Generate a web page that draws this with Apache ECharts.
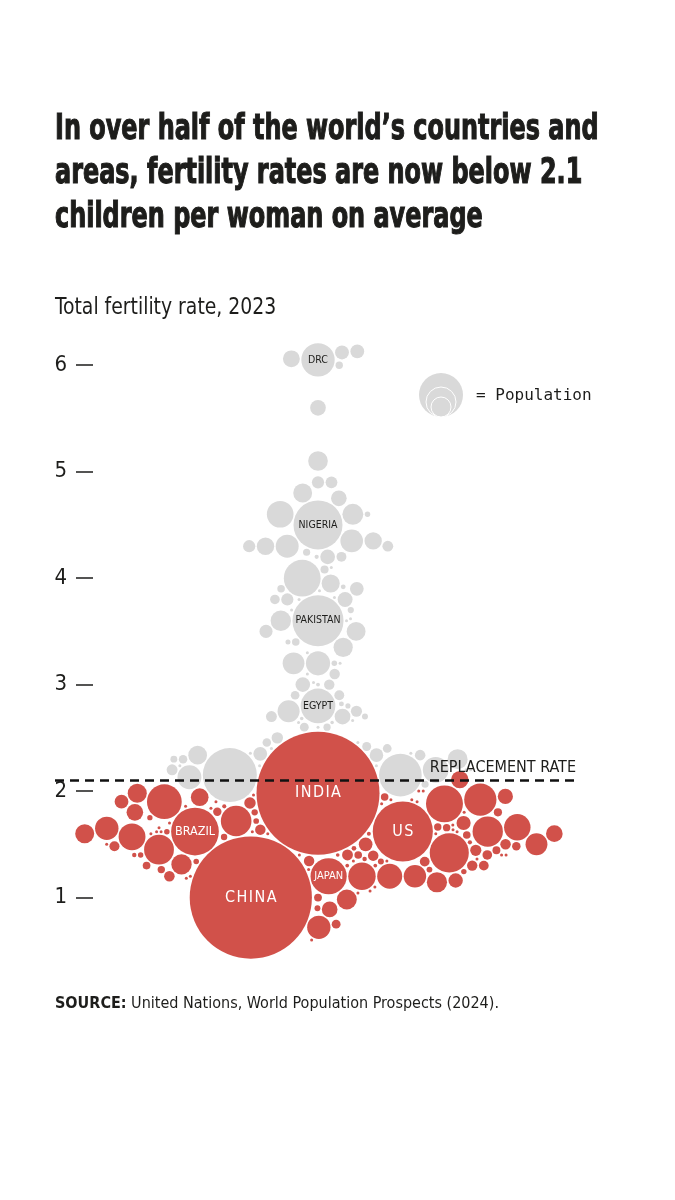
<!DOCTYPE html>
<html>
<head>
<meta charset="utf-8">
<script src="https://cdn.jsdelivr.net/npm/echarts@6/dist/echarts.min.js"></script>
<style>
html, body { margin: 0; padding: 0; background: #fff; }
#chart { width: 675px; height: 1200px; }
</style>
</head>
<body>
<div id="chart"></div>
<script>
var chart = echarts.init(document.getElementById('chart'));

// [country or area, total fertility rate 2023, population in millions]
var subSaharanAfrica = [
    ['DRC', 6.05, 105.8], ['Niger', 6.06, 27.2], ['Chad', 6.12, 18.3], ['Somalia', 6.13, 18.1],
    ['Central African Rep.', 6.0, 5.2], ['Mali', 5.6, 23.3], ['Angola', 5.1, 36.7],
    ['Mozambique', 4.8, 33.9], ['Burkina Faso', 4.75, 23.3], ['Benin', 4.9, 14.1], ['Burundi', 4.9, 13.2],
    ['Tanzania', 4.6, 67.4], ['Nigeria', 4.5, 227.9], ['Uganda', 4.35, 48.6], ['Sudan', 4.3, 50.0],
    ['Cameroon', 4.35, 28.6], ["Côte d'Ivoire", 4.3, 28.9], ['Guinea', 4.3, 14.2], ['South Sudan', 4.3, 11.1],
    ['Zambia', 4.2, 20.7], ['Mauritania', 4.3, 4.9], ['Gambia', 4.6, 2.8], ['Equatorial Guinea', 4.2, 1.7],
    ['Congo', 4.1, 6.2], ['Togo', 4.2, 9.3], ['Mayotte', 4.1, 0.32],
    ['Ethiopia', 4.0, 128.7], ['Madagascar', 3.95, 31.2], ['Malawi', 3.8, 21.1], ['Senegal', 3.9, 18.0],
    ['Sierra Leone', 3.8, 8.8], ['Liberia', 3.9, 5.4], ['Guinea-Bissau', 3.9, 2.2], ['Rwanda', 3.8, 14.1],
    ['Eritrea', 3.7, 3.7], ['Comoros', 3.8, 0.85], ['Sao Tome and Principe', 3.7, 0.23],
    ['Zimbabwe', 3.5, 16.3], ['Ghana', 3.5, 33.8], ['Gabon', 3.4, 2.4], ['Kenya', 3.2, 55.3],
    ['Namibia', 3.2, 2.9], ['Lesotho', 2.8, 2.3], ['Botswana', 2.8, 2.5], ['Eswatini', 2.7, 1.2],
    ['Djibouti', 2.7, 1.15], ['South Africa', 2.2, 63.2], ['Seychelles', 2.2, 0.13], ['Réunion', 2.2, 0.87],
    ['Cabo Verde', 1.9, 0.52], ['Mauritius', 1.4, 1.27]
];
var northAfricaWestAsia = [
    ['Egypt', 2.8, 114.5], ['Algeria', 2.75, 46.2], ['Morocco', 2.3, 37.8], ['Libya', 2.4, 7.3],
    ['Tunisia', 1.85, 12.5], ['Western Sahara', 2.2, 0.58], ['Yemen', 3.6, 39.4], ['Iraq', 3.2, 45.1],
    ['State of Palestine', 3.4, 5.4], ['Syria', 2.7, 23.6], ['Jordan', 2.7, 11.3], ['Israel', 2.9, 9.3],
    ['Saudi Arabia', 2.3, 33.3], ['Oman', 2.6, 5.0], ['Kuwait', 2.12, 4.8], ['Lebanon', 2.0, 5.4],
    ['Bahrain', 1.8, 1.6], ['Qatar', 1.75, 2.7], ['United Arab Emirates', 1.2, 10.6], ['Turkey', 1.62, 87.3],
    ['Azerbaijan', 1.6, 10.4], ['Armenia', 1.6, 2.9], ['Georgia', 1.8, 3.8], ['Cyprus', 1.3, 1.3]
];
var centralSouthAsia = [
    ['India', 1.98, 1438.1], ['Pakistan', 3.6, 247.5], ['Bangladesh', 2.15, 173.0], ['Afghanistan', 4.6, 41.5],
    ['Iran', 1.7, 89.2], ['Nepal', 1.98, 29.7], ['Sri Lanka', 1.95, 22.0], ['Bhutan', 1.4, 0.79],
    ['Maldives', 1.7, 0.53], ['Uzbekistan', 3.35, 35.2], ['Kazakhstan', 3.0, 20.3], ['Tajikistan', 3.0, 10.4],
    ['Kyrgyzstan', 2.9, 7.1], ['Turkmenistan', 2.6, 7.4]
];
var eastSoutheastAsia = [
    ['China', 1.0, 1419.3], ['Japan', 1.2, 124.4], ['South Korea', 0.72, 51.7], ['North Korea', 1.8, 26.2],
    ['Taiwan', 0.87, 23.3], ['Hong Kong', 0.75, 7.5], ['Macao', 0.6, 0.71], ['Mongolia', 2.7, 3.4],
    ['Indonesia', 2.15, 277.5], ['Philippines', 1.9, 114.9], ['Vietnam', 1.92, 99.0], ['Thailand', 1.2, 71.7],
    ['Myanmar', 2.13, 54.1], ['Malaysia', 1.6, 34.3], ['Cambodia', 2.3, 17.4], ['Laos', 2.4, 7.6],
    ['Singapore', 1.0, 5.8], ['Timor-Leste', 3.0, 1.4], ['Brunei', 1.8, 0.46]
];
var europe = [
    ['Russia', 1.42, 145.4], ['Germany', 1.45, 84.5], ['United Kingdom', 1.57, 68.7], ['France', 1.66, 66.4],
    ['Italy', 1.2, 59.5], ['Spain', 1.2, 47.9], ['Poland', 1.2, 38.8], ['Ukraine', 1.0, 37.7],
    ['Romania', 1.7, 19.1], ['Netherlands', 1.5, 17.9], ['Belgium', 1.5, 11.8], ['Czechia', 1.5, 10.5],
    ['Sweden', 1.45, 10.5], ['Portugal', 1.4, 10.4], ['Greece', 1.3, 10.3], ['Hungary', 1.5, 9.6],
    ['Belarus', 1.3, 9.1], ['Austria', 1.3, 9.1], ['Switzerland', 1.4, 8.8], ['Serbia', 1.5, 6.8],
    ['Bulgaria', 1.75, 6.7], ['Denmark', 1.5, 5.9], ['Finland', 1.3, 5.6], ['Norway', 1.4, 5.5],
    ['Slovakia', 1.55, 5.5], ['Ireland', 1.7, 5.2], ['Croatia', 1.55, 3.9], ['Bosnia and Herzegovina', 1.3, 3.2],
    ['Moldova', 1.7, 3.1], ['Lithuania', 1.3, 2.9], ['Albania', 1.4, 2.8], ['Slovenia', 1.5, 2.1],
    ['Latvia', 1.4, 1.9], ['North Macedonia', 1.4, 1.8], ['Kosovo', 1.5, 1.7], ['Estonia', 1.3, 1.3],
    ['Luxembourg', 1.3, 0.66], ['Montenegro', 1.7, 0.62], ['Malta', 1.1, 0.54], ['Iceland', 1.6, 0.39],
    ['Channel Islands', 1.4, 0.17], ['Isle of Man', 1.6, 0.08], ['Andorra', 1.1, 0.08], ['Faroe Islands', 2.2, 0.05],
    ['San Marino', 1.1, 0.03], ['Monaco', 2.1, 0.04], ['Liechtenstein', 1.4, 0.04], ['Gibraltar', 1.6, 0.03]
];
var americas = [
    ['US', 1.62, 343.5], ['Brazil', 1.62, 216.4], ['Mexico', 1.88, 129.7], ['Colombia', 1.65, 52.1],
    ['Argentina', 1.5, 45.5], ['Canada', 1.33, 39.3], ['Peru', 1.98, 34.4], ['Venezuela', 2.07, 28.8],
    ['Chile', 1.16, 19.6], ['Ecuador', 1.9, 18.0], ['Guatemala', 2.35, 18.1], ['Bolivia', 2.5, 12.4],
    ['Haiti', 2.75, 11.7], ['Cuba', 1.4, 11.2], ['Dominican Republic', 2.2, 11.3], ['Honduras', 2.3, 10.6],
    ['Paraguay', 2.4, 6.9], ['Nicaragua', 2.3, 6.9], ['El Salvador', 1.8, 6.4], ['Costa Rica', 1.3, 5.2],
    ['Panama', 2.3, 4.5], ['Uruguay', 1.3, 3.4], ['Puerto Rico', 0.9, 3.3], ['Jamaica', 1.3, 2.8],
    ['Trinidad and Tobago', 1.6, 1.5], ['Guyana', 2.4, 0.83], ['Suriname', 2.3, 0.62], ['Belize', 2.0, 0.41],
    ['Bahamas', 1.4, 0.4], ['Guadeloupe', 2.0, 0.38], ['Martinique', 1.8, 0.35], ['French Guiana', 3.3, 0.3],
    ['Barbados', 1.6, 0.28], ['Curaçao', 1.6, 0.19], ['Saint Lucia', 1.4, 0.18], ['Grenada', 1.9, 0.12],
    ['Aruba', 1.2, 0.11], ['US Virgin Islands', 1.9, 0.1], ['Saint Vincent', 1.8, 0.1], ['Antigua and Barbuda', 1.6, 0.09],
    ['Dominica', 1.6, 0.07], ['Cayman Islands', 1.2, 0.07], ['Bermuda', 1.4, 0.06], ['Greenland', 1.9, 0.06],
    ['Saint Kitts and Nevis', 1.5, 0.05], ['Turks and Caicos', 1.6, 0.05]
];
var oceania = [
    ['Australia', 1.6, 26.4], ['Papua New Guinea', 3.1, 10.3], ['New Zealand', 1.6, 5.2], ['Fiji', 2.4, 0.93],
    ['Solomon Islands', 3.9, 0.8], ['Vanuatu', 3.6, 0.33], ['New Caledonia', 1.9, 0.29], ['French Polynesia', 1.6, 0.28],
    ['Samoa', 3.8, 0.22], ['Guam', 2.7, 0.17], ['Kiribati', 3.2, 0.13], ['Micronesia', 2.6, 0.11],
    ['Tonga', 3.1, 0.1], ['American Samoa', 2.3, 0.05], ['Northern Mariana Islands', 2.0, 0.05],
    ['Marshall Islands', 2.7, 0.04], ['Palau', 2.2, 0.02], ['Nauru', 3.6, 0.01], ['Tuvalu', 3.0, 0.01]
];

var tickValues = [1, 2, 3, 4, 5, 6];
var replacementRate = 2.1;
var countries = [].concat(subSaharanAfrica, northAfricaWestAsia, centralSouthAsia,
    eastSoutheastAsia, europe, americas, oceania);

var NARROW = "'Liberation Sans Narrow', 'DejaVu Sans Condensed', sans-serif";
var INK = '#1d1d1b';
var RED = '#d1514a';
var GREY = '#d9d9d9';

// label look for the named bubbles
var labelStyle = {
    India: { size: 16, color: '#fff', spread: true },
    China: { size: 16, color: '#fff', spread: true },
    US: { size: 16, color: '#fff', spread: true },
    Brazil: { size: 12.5, color: '#fff' },
    Japan: { size: 11, color: '#fff' },
    DRC: { size: 10.5, color: INK },
    Nigeria: { size: 10.5, color: INK },
    Pakistan: { size: 10.5, color: INK },
    Egypt: { size: 10.5, color: INK }
};

function radius(pop) {              // sqrt scale, India ~61px
    return Math.max(1.5, 61.5 * Math.sqrt(pop / 1438.1));
}
function labelText(name, spread) {
    var s = name.toUpperCase();
    return spread ? s.split('').join('\u200a') : s;
}

chart.setOption({
    animation: false,
    grid: { left: 55, right: 95, top: 312, height: 692 },
    xAxis: { type: 'value', min: -263, max: 262, show: false },
    yAxis: {
        type: 'value',
        min: 0,
        max: 6.5,
        offset: -38,
        splitLine: { show: false },
        axisLine: { show: false, onZero: false },
        axisTick: { show: true, length: 17, customValues: tickValues, lineStyle: { color: INK, width: 1.5 } },
        axisLabel: { customValues: tickValues, fontSize: 22, fontFamily: NARROW, color: INK, margin: 26 }
    },
    series: []
});

// greedy beeswarm, largest first: each bubble goes as close to the centre line as it fits,
// allowed to slip a few pixels up or down (at a cost) so small ones can fill gaps
var SLIP = [0, -2, 2, -4, 4, -6, 6];
function swarm(nodes, pad) {
    var placed = [];
    nodes.forEach(function (n) {
        var best = null;
        SLIP.forEach(function (s) {
            var y = n.y0 + s;
            var near = placed.filter(function (p) { return Math.abs(y - p.y) < n.r + p.r + pad; });
            var cands = [0];
            near.forEach(function (p) {
                var d = n.r + p.r + pad, dy = y - p.y;
                var dx = Math.sqrt(d * d - dy * dy);
                cands.push(p.x - dx, p.x + dx);
            });
            cands.sort(function (a, b) { return Math.abs(a) - Math.abs(b); });
            for (var i = 0; i < cands.length; i++) {
                var x = cands[i], ok = true;
                var cost = Math.abs(x) + 4 * Math.abs(s);
                if (best && cost >= best.cost) break;
                for (var j = 0; j < near.length; j++) {
                    var p = near[j], d2 = n.r + p.r + pad - 0.01;
                    var ex = x - p.x, ey = y - p.y;
                    if (ex * ex + ey * ey < d2 * d2) { ok = false; break; }
                }
                if (ok) { best = { x: x, y: y, cost: cost }; break; }
            }
        });
        n.x = best.x;
        n.y = best.y;
        placed.push(n);
    });
}

var nodes = countries.map(function (c) {
    return {
        name: c[0], tfr: c[1], pop: c[2], r: radius(c[2]),
        y0: chart.convertToPixel({ yAxisIndex: 0 }, c[1])
    };
});
nodes.sort(function (a, b) { return b.r - a.r; });
swarm(nodes, 1.5);

var cx = chart.convertToPixel({ xAxisIndex: 0 }, 0);
function toItem(n) {
    var item = {
        name: n.name,
        value: [
            chart.convertFromPixel({ xAxisIndex: 0 }, cx + n.x),
            chart.convertFromPixel({ yAxisIndex: 0 }, n.y),
            n.tfr, n.pop
        ],
        symbolSize: 2 * n.r
    };
    var ls = labelStyle[n.name];
    if (ls) {
        item.label = {
            show: true, position: 'inside', formatter: labelText(n.name, ls.spread),
            color: ls.color, fontSize: ls.size, fontFamily: NARROW
        };
    }
    return item;
}

chart.setOption({
    graphic: [
        {
            type: 'text', x: 55, y: 108, scaleX: 0.76,
            style: {
                text: 'In over half of the world\u2019s countries and\nareas, fertility rates are now below 2.1\nchildren per woman on average',
                fontSize: 35, fontWeight: 'bold', fontFamily: NARROW, lineHeight: 44,
                fill: INK, stroke: INK, lineWidth: 1.1, verticalAlign: 'top'
            }
        },
        {
            type: 'text', x: 55, y: 297, scaleX: 0.91,
            style: { text: 'Total fertility rate, 2023', fontSize: 23, fontFamily: NARROW, fill: INK, verticalAlign: 'top' }
        },
        { type: 'circle', shape: { cx: 441, cy: 395, r: 22 }, style: { fill: GREY } },
        { type: 'circle', shape: { cx: 441, cy: 402, r: 15 }, style: { fill: GREY, stroke: '#fff', lineWidth: 1 } },
        { type: 'circle', shape: { cx: 441, cy: 407, r: 10 }, style: { fill: GREY, stroke: '#fff', lineWidth: 1 } },
        {
            type: 'text', left: 476, top: 388,
            style: { text: '= Population', fontSize: 16, fontFamily: "'DejaVu Sans Mono', monospace", fill: INK }
        },
        {
            type: 'text', x: 55, y: 996,
            style: {
                text: '{b|SOURCE:} United Nations, World Population Prospects (2024).',
                fontSize: 16, fontFamily: NARROW, fill: INK, verticalAlign: 'top',
                rich: { b: { fontSize: 16, fontFamily: NARROW, fontWeight: 'bold', fill: INK } }
            }
        }
    ],
    series: [
        {
            type: 'scatter',
            clip: false,
            silent: true,
            z: 2,
            itemStyle: { color: GREY, opacity: 1 },
            data: nodes.filter(function (n) { return n.tfr >= replacementRate; }).map(toItem)
        },
        {
            type: 'scatter',
            clip: false,
            silent: true,
            z: 3,
            itemStyle: { color: RED, opacity: 1 },
            data: nodes.filter(function (n) { return n.tfr < replacementRate; }).map(toItem)
        },
        {
            type: 'line',
            data: [],
            z: 5,
            markLine: {
                silent: true,
                symbol: 'none',
                lineStyle: { color: '#111', width: 2.5, type: [9, 6] },
                label: {
                    position: 'insideEndTop', formatter: 'REPLACEMENT RATE', distance: [4, 5],
                    fontSize: 16, fontFamily: NARROW, color: INK
                },
                data: [{ yAxis: replacementRate }]
            }
        }
    ]
});
</script>
</body>
</html>
